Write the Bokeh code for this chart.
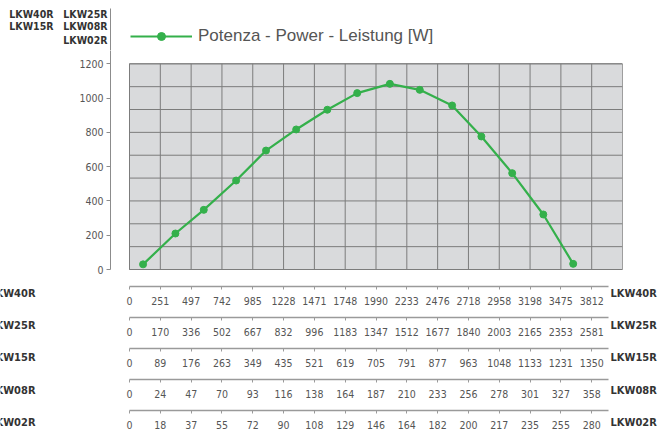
from bokeh.plotting import figure
from bokeh.layouts import column, row
from bokeh.models import LinearAxis, FixedTicker, Range1d, Legend, LegendItem
from bokeh.core.properties import value
from bokeh.embed import file_html
from bokeh.resources import INLINE

# ---------------- data ----------------
cell_index = list(range(17))          # grid / scale positions (0..16)
point_x = [0.44, 1.49, 2.41, 3.46, 4.43, 5.41, 6.42, 7.39,
           8.45, 9.42, 10.47, 11.42, 12.42, 13.43, 14.40]
power_w = [30, 210, 348, 519, 694, 817, 932, 1029,
           1083, 1048, 957, 776, 562, 321, 33]
y_ticks = [0, 200, 400, 600, 800, 1000, 1200]

row_names = ["LKW40R", "LKW25R", "LKW15R", "LKW08R", "LKW02R"]
lkw40r = [0, 251, 497, 742, 985, 1228, 1471, 1748, 1990, 2233, 2476, 2718, 2958, 3198, 3475, 3812]
lkw25r = [0, 170, 336, 502, 667, 832, 996, 1183, 1347, 1512, 1677, 1840, 2003, 2165, 2353, 2581]
lkw15r = [0, 89, 176, 263, 349, 435, 521, 619, 705, 791, 877, 963, 1048, 1133, 1231, 1350]
lkw08r = [0, 24, 47, 70, 93, 116, 138, 164, 187, 210, 233, 256, 278, 301, 327, 358]
lkw02r = [0, 18, 37, 55, 72, 90, 108, 129, 146, 164, 182, 200, 217, 235, 255, 280]
row_values = [lkw40r, lkw25r, lkw15r, lkw08r, lkw02r]

top_left_names = ["LKW40R", "LKW25R", "LKW15R", "LKW08R", "LKW02R"]
legend_label = "Potenza - Power - Leistung [W]"

# ---------------- style ----------------
GREEN = "#34b04b"
AXIS_GREY = "#8c8c8c"
NARROW = "'DejaVu Sans Condensed', 'Liberation Sans Narrow', sans-serif"
SANS = "'Liberation Sans', Arial, sans-serif"
W = 662
X0, X1 = -0.617, 16           # x range of the chart frame (index units)
ROW_GAP = 32.2
NAN = float("nan")


def bare(width, height, xr, yr):
    f = figure(width=width, height=height, x_range=xr, y_range=yr,
               output_backend="svg", toolbar_location=None,
               x_axis_location=None, y_axis_location=None,
               min_border_left=0, min_border_right=0,
               min_border_top=0, min_border_bottom=0)
    f.frame_align = False
    f.grid.visible = False
    f.outline_line_color = None
    f.background_fill_color = "white"
    f.border_fill_color = "white"
    return f


# ---------- top strip: model names + legend ----------
T_H = 50
top = bare(W, T_H, Range1d(0, W), Range1d(T_H, 0))
top.text(x=[53, 107, 53, 107, 107], y=[13.5, 13.5, 25.5, 25.5, 39],
         text=top_left_names, text_align="right", text_baseline="middle",
         text_font=value(NARROW), text_font_style="bold",
         text_font_size="10.5px", text_color="#333333")
top.segment(x0=110, y0=8, x1=110, y1=T_H, line_color=AXIS_GREY, line_width=1)
# legend sample renderers (no visible data in this strip)
lg_line = top.line(x=[NAN], y=[NAN], line_color=GREEN, line_width=2.2)
lg_pts = top.scatter(x=[NAN], y=[NAN], marker="circle", size=7,
                     fill_color=GREEN, line_color=GREEN)
legend = Legend(items=[LegendItem(label=legend_label, renderers=[lg_line, lg_pts])],
                location=(130, 4), border_line_color=None,
                background_fill_alpha=0, glyph_width=62, glyph_height=20,
                label_height=20, label_standoff=6, padding=5, margin=0,
                label_text_font=SANS, label_text_font_size="17px",
                label_text_color="#555555")
top.add_layout(legend)

# ---------- main chart ----------
M_H = 231
main = figure(width=W, height=M_H, output_backend="svg", toolbar_location=None,
              x_range=Range1d(X0, X1), y_range=Range1d(-70, 1277.6),
              x_axis_location=None,
              min_border_left=110, min_border_right=40,
              min_border_top=0, min_border_bottom=0)
main.frame_align = False
main.grid.visible = False
main.outline_line_color = None
main.background_fill_color = "white"
main.border_fill_color = "white"

main.quad(left=cell_index[0], right=cell_index[-1], bottom=y_ticks[0], top=y_ticks[-1],
          fill_color="#d9dadc", line_color="#8a8a8a", line_width=1)
main.segment(x0=cell_index, x1=cell_index, y0=y_ticks[0], y1=y_ticks[-1],
             line_color="#7c7c7c", line_width=1)
hgrid = [y_ticks[-1] * i / 9 for i in range(10)]
main.segment(x0=cell_index[0], x1=cell_index[-1], y0=hgrid, y1=hgrid,
             line_color="#7c7c7c", line_width=1)

main.line(point_x, power_w, line_color=GREEN, line_width=2.2)
main.scatter(point_x, power_w, marker="circle", size=7,
             fill_color=GREEN, line_color=GREEN)

ya = main.yaxis[0]
ya.ticker = FixedTicker(ticks=y_ticks)
ya.bounds = (y_ticks[0], 1277.6)
ya.minor_tick_line_color = None
ya.major_tick_in = 0
ya.major_tick_out = 4
ya.axis_line_color = AXIS_GREY
ya.major_tick_line_color = AXIS_GREY
ya.major_label_text_font = NARROW
ya.major_label_text_font_size = "10.5px"
ya.major_label_text_color = "#555555"
ya.major_label_standoff = 3

# ---------- bottom: five speed scales ----------
B_H = 155
scales = figure(frame_width=500, frame_height=5, output_backend="svg",
                toolbar_location=None,
                x_range=Range1d(X0, X0 + 500 / (512 / (X1 - X0))),
                y_range=Range1d(0, 1),
                x_axis_location=None, y_axis_location=None,
                min_border_left=0, min_border_right=0,
                min_border_top=0, min_border_bottom=0)
scales.frame_align = False
scales.grid.visible = False
scales.outline_line_color = None
scales.border_fill_color = "white"

for k, vals in enumerate(row_values):
    ax = LinearAxis(ticker=FixedTicker(ticks=cell_index[:len(vals)]),
                    major_label_overrides={i: str(v) for i, v in enumerate(vals)},
                    bounds=(0, 15.55))
    ax.axis_line_color = "#9a9a9a"
    ax.axis_line_width = 1.5
    ax.major_tick_line_color = "#9a9a9a"
    ax.major_tick_in = 0
    ax.major_tick_out = 3
    ax.minor_tick_line_color = None
    ax.major_label_text_font = NARROW
    ax.major_label_text_font_size = "10.5px"
    ax.major_label_text_color = "#555555"
    ax.major_label_standoff = 7
    if k < len(row_values) - 1:
        ax.axis_label = " "
        ax.axis_label_text_font_size = "7px"
        ax.axis_label_standoff = 0
    scales.add_layout(ax, "below")

row_y = [12 + ROW_GAP * k for k in range(len(row_names))]

left_names = bare(110, B_H, Range1d(0, 110), Range1d(B_H, 0))
left_names.text(x=35, y=row_y, text=row_names, text_align="right",
                text_baseline="middle", text_font=value(NARROW),
                text_font_style="bold", text_font_size="11px", text_color="#333333")

right_names = bare(52, B_H, Range1d(0, 52), Range1d(B_H, 0))
right_names.text(x=0, y=row_y, text=row_names, text_align="left",
                 text_baseline="middle", text_font=value(NARROW),
                 text_font_style="bold", text_font_size="11px", text_color="#333333")

layout = column(top, main, row(left_names, scales, right_names))

open("out.html", "w").write(file_html(layout, INLINE))
